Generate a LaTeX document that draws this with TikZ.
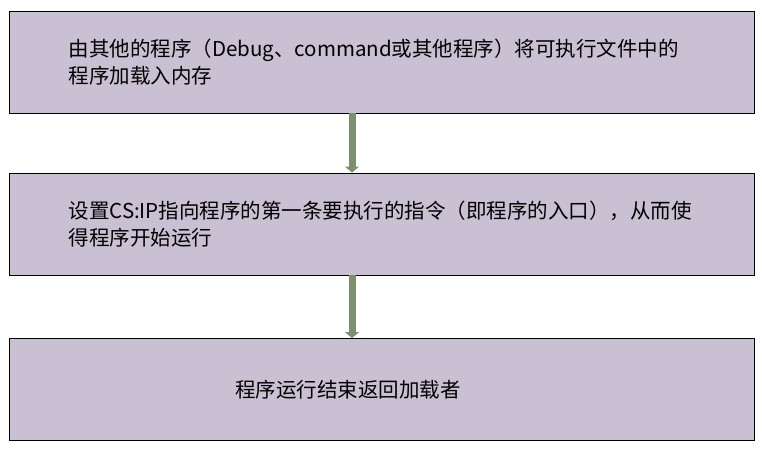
\documentclass[tikz,border=0pt]{standalone}
\usepackage{fontspec}
\setmainfont{Noto Sans CJK SC}
\usetikzlibrary{arrows.meta}
\definecolor{stepfill}{RGB}{201,192,212}
\definecolor{flowgreen}{RGB}{125,143,113}
\tikzset{
  stepbox/.style={draw=black,line width=0.9pt,fill=stepfill,minimum width=745pt,minimum height=102pt,
    align=left,inner ysep=0pt,font=\fontsize{20.5}{27}\selectfont},
  flow/.style={flowgreen,line width=7pt,-{Triangle[width=14pt,length=6pt]}},
  every picture/.style={x=1pt,y=-1pt}
}
\begin{document}
\begin{tikzpicture}
  \useasboundingbox (0,0) rectangle (762,453);
  \node[stepbox,text width=626pt,inner xsep=59.5pt] (load) at (381.5,62) {由其他的程序（Debug、command或其他程序）将可执行文件中的\\程序加载入内存};
  \node[stepbox,text width=626pt,inner xsep=59.5pt] (entry) at (381.5,224) {设置CS:IP指向程序的第一条要执行的指令（即程序的入口），从而使\\得程序开始运行};
  \node[stepbox,text width=293pt,inner xsep=226pt] (ret) at (381.5,389.5) {程序运行结束返回加载者};
  \draw[flow] ([xshift=-29.5pt]load.south) -- ([xshift=-29.5pt]entry.north);
  \draw[flow] ([xshift=-29.5pt]entry.south) -- ([xshift=-29.5pt]ret.north);
\end{tikzpicture}
\end{document}
